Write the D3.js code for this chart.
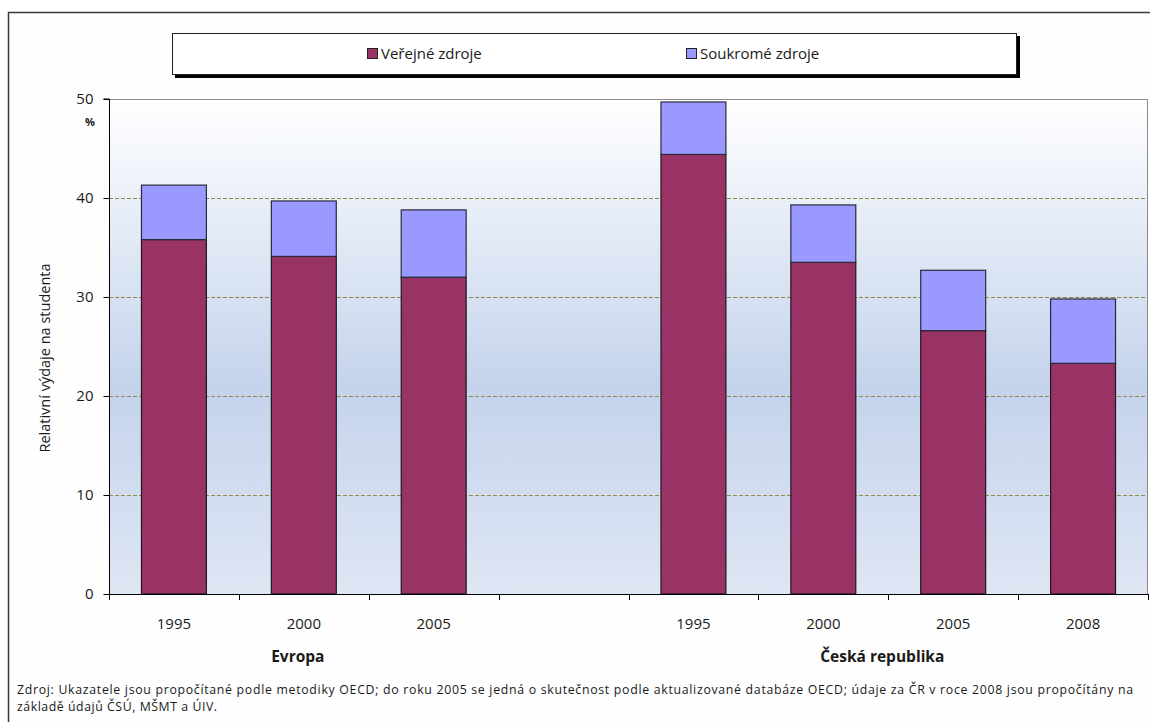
<!DOCTYPE html>
<html><head><meta charset="utf-8">
<script src="https://cdn.jsdelivr.net/npm/d3@7"></script>
<style>
body{margin:0;background:#fff;}
text{font-family:"Open Sans",Lato,sans-serif;fill:#1a1a1a;}
</style></head>
<body><svg id="c" width="1150" height="722"></svg>
<script>
const categories = ["1995","2000","2005","","1995","2000","2005","2008"];
const publicValues = [35.8, 34.1, 32.0, null, 44.4, 33.5, 26.6, 23.3];
const privateValues = [5.5, 5.6, 6.8, null, 5.3, 5.8, 6.1, 6.5];
const seriesNames = ["Veřejné zdroje","Soukromé zdroje"];
const seriesColors = ["#993366","#9999ff"];
const groupLabels = ["Evropa","Česká republika"];
const groupRanges = [[0,2],[4,7]];
const yTicks = [0,10,20,30,40,50];
const yTitle = "Relativní výdaje na studenta";
const footLines = ["Zdroj: Ukazatele jsou propočítané podle metodiky OECD; do roku 2005 se jedná o skutečnost podle aktualizované  databáze OECD;  údaje za ČR v roce 2008 jsou propočítány na",
"základě údajů ČSÚ,  MŠMT a ÚIV."];
const footWidths = [1116, 200];

const svg = d3.select("#c");
const L=109, R=1148, T=99, B=594;

// outer border
svg.append("rect").attr("x",8.5).attr("y",12.5).attr("width",1160).attr("height",730)
  .attr("fill","#fefefe").attr("stroke","#3a3a3a").attr("stroke-width",1.5);

const defs = svg.append("defs");
const g = defs.append("linearGradient").attr("id","bg").attr("x1",0).attr("y1",0).attr("x2",0).attr("y2",1);
g.append("stop").attr("offset","0%").attr("stop-color","#ffffff");
g.append("stop").attr("offset","58%").attr("stop-color","#c4d3ec");
g.append("stop").attr("offset","100%").attr("stop-color","#dfe6f4");

const x = d3.scaleBand().domain(d3.range(categories.length)).range([L,R]).paddingInner(0.5).paddingOuter(0.25);
const y = d3.scaleLinear().domain([0,50]).range([B,T]);

svg.append("rect").attr("x",L).attr("y",T).attr("width",R-L).attr("height",B-T).attr("fill","url(#bg)");

// gridlines
svg.append("g").selectAll("line").data(yTicks.filter(v=>v>0&&v<50)).join("line")
  .attr("x1",L).attr("x2",R).attr("y1",d=>Math.round(y(d))+0.5).attr("y2",d=>Math.round(y(d))+0.5)
  .attr("stroke","#8f8a4a").attr("stroke-dasharray","4,2").attr("stroke-width",1);

// plot border top/right
svg.append("path").attr("d",`M${L},${T+0.5}H${R-0.5}V${B}`).attr("fill","none").attr("stroke","#8a8a8a").attr("stroke-width",1);

// bars
const data = categories.map((c,i)=>({i,pub:publicValues[i],priv:privateValues[i]})).filter(d=>d.pub!=null);
const bars = svg.append("g");
bars.selectAll("rect.pub").data(data).join("rect").attr("class","pub")
  .attr("x",d=>x(d.i)).attr("width",x.bandwidth())
  .attr("y",d=>y(d.pub)).attr("height",d=>y(0)-y(d.pub))
  .attr("fill",seriesColors[0]).attr("stroke","#1a1a1a").attr("stroke-width",1.2);
bars.selectAll("rect.priv").data(data).join("rect").attr("class","priv")
  .attr("x",d=>x(d.i)).attr("width",x.bandwidth())
  .attr("y",d=>y(d.pub+d.priv)).attr("height",d=>y(d.pub)-y(d.pub+d.priv))
  .attr("fill",seriesColors[1]).attr("stroke","#2a2a3a").attr("stroke-width",1.2);

// y axis
const ya = svg.append("g").attr("transform",`translate(${L+0.5},0)`)
  .call(d3.axisLeft(y).tickValues(yTicks).tickSize(6).tickPadding(10));
ya.select(".domain").attr("stroke","#000").attr("d",`M-6,${T}H0V${B}`);
ya.selectAll(".tick line").attr("stroke","#000");
ya.selectAll(".tick text").style("font-size","15px").attr("fill","#1a1a1a").attr("font-family","Open Sans");

// x axis: ticks at category boundaries
const bounds = d3.range(categories.length+1).map(k=>L + k*(R-L)/categories.length);
svg.append("line").attr("x1",L).attr("x2",R).attr("y1",B+0.5).attr("y2",B+0.5).attr("stroke","#000");
svg.append("g").selectAll("line").data(bounds).join("line")
  .attr("x1",d=>Math.round(d)+0.5).attr("x2",d=>Math.round(d)+0.5).attr("y1",B).attr("y2",B+6).attr("stroke","#000");
svg.append("g").selectAll("text").data(categories.map((c,i)=>({c,i}))).join("text")
  .attr("x",d=>x(d.i)+x.bandwidth()/2).attr("y",629).attr("text-anchor","middle")
  .style("font-size","15px").text(d=>d.c);
svg.append("g").selectAll("text").data(groupLabels).join("text")
  .attr("x",(d,k)=>(x(groupRanges[k][0])+x(groupRanges[k][1])+x.bandwidth())/2-6).attr("y",662)
  .attr("text-anchor","middle").style("font-size","15.5px").style("font-weight","bold").text(d=>d);

// y labels
svg.append("text").attr("x",90).attr("y",126).attr("text-anchor","middle").style("font-size","11px").style("font-weight","bold").text("%");
svg.append("text").attr("transform","translate(50,358) rotate(-90)").attr("text-anchor","middle")
  .style("font-size","14.5px").text(yTitle);

// footnote
svg.append("g").selectAll("text").data(footLines).join("text")
  .attr("x",17).attr("y",(d,i)=>694+i*17).style("font-size","12.3px")
  .attr("textLength",(d,i)=>footWidths[i]).attr("lengthAdjust","spacing").text(d=>d);

// legend
const lg = svg.append("g");
lg.append("rect").attr("x",175).attr("y",36).attr("width",845).attr("height",42).attr("fill","#000");
lg.append("rect").attr("x",172.5).attr("y",33.5).attr("width",844).attr("height",41).attr("fill","#fff").attr("stroke","#222");
const lx = [367, 686];
seriesNames.forEach((n,k)=>{
  lg.append("rect").attr("x",lx[k]+0.5).attr("y",48.5).attr("width",10).attr("height",10).attr("fill",seriesColors[k]).attr("stroke","#222");
  lg.append("text").attr("x",lx[k]+14).attr("y",59).style("font-size","15px").text(n);
});
</script></body></html>
